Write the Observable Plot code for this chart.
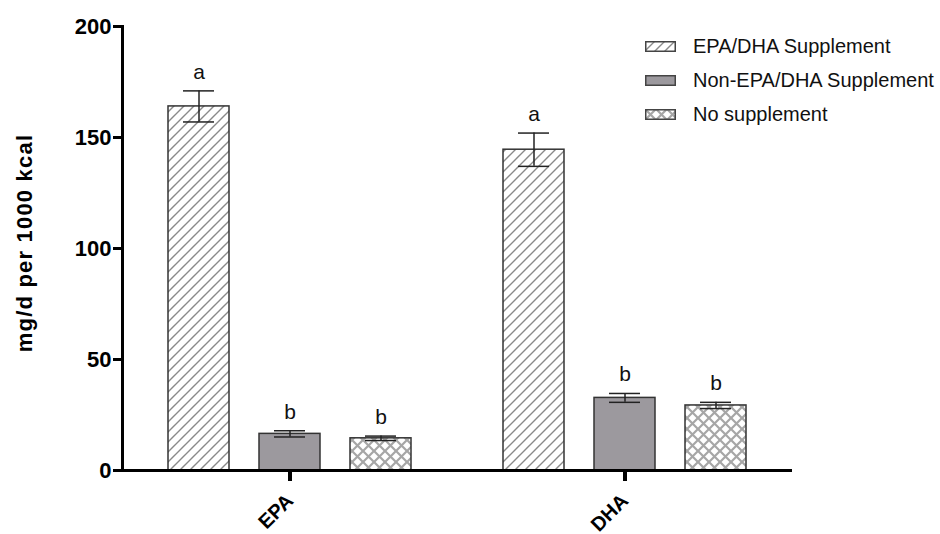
<!DOCTYPE html>
<html><head><meta charset="utf-8">
<script src="https://cdn.jsdelivr.net/npm/d3@7"></script>
<script src="https://cdn.jsdelivr.net/npm/@observablehq/plot@0.6"></script>
<style>
body{margin:0;background:#fff;font-family:"Liberation Sans",Arial,sans-serif;}
#wrap{position:relative;width:940px;height:534px;}
#chart{position:absolute;left:0;top:0;}
#ylab{position:absolute;left:-125px;top:230px;width:300px;height:26px;text-align:center;transform:rotate(-90deg);font-weight:bold;font-size:22px;letter-spacing:1.2px;line-height:26px;color:#000;white-space:nowrap}
#legend{position:absolute;left:645px;top:29px;font-size:20px;color:#111}
.row{display:flex;align-items:center;height:34px;white-space:nowrap}
.row svg{margin-right:17px;flex:none}
.xtick{position:absolute;width:4px;height:10px;background:#000;z-index:10}
</style></head>
<body>
<svg width="0" height="0" style="position:absolute">
<defs>
<pattern id="diag" patternUnits="userSpaceOnUse" width="10" height="10">
<rect width="10" height="10" fill="#fff"/>
<path d="M-1,11 L11,-1 M-1,1 L1,-1 M9,11 L11,9" stroke="#8a8a8a" stroke-width="1.4"/>
</pattern>
<pattern id="cross" patternUnits="userSpaceOnUse" width="11" height="11">
<rect width="11" height="11" fill="#fff"/>
<path d="M0,0 L11,11 M11,0 L0,11" stroke="#a6a6a6" stroke-width="2.2"/>
</pattern>
</defs>
</svg>
<div id="wrap"><div id="chart"></div><div id="ylab">mg/d per 1000 kcal</div><div id="legend"></div></div>
<script>
const nutrients = ["EPA", "DHA"];
const groups = ["EPA/DHA Supplement", "Non-EPA/DHA Supplement", "No supplement"];
const epaMean = [164, 16.5, 14.5];
const epaSE = [7, 1.4, 1.0];
const dhaMean = [144.5, 32.7, 29.3];
const dhaSE = [7.5, 2.0, 1.4];
const epaLetters = ["a", "b", "b"];
const dhaLetters = ["a", "b", "b"];
const yTicks = [0, 50, 100, 150, 200];
const fills = ["url(#diag)", "#9c999e", "url(#cross)"];

const rows = [];
nutrients.forEach((n, i) => {
  const m = i === 0 ? epaMean : dhaMean;
  const s = i === 0 ? epaSE : dhaSE;
  const l = i === 0 ? epaLetters : dhaLetters;
  groups.forEach((g, j) => rows.push({nutrient: n, group: g, mean: m[j], lo: m[j] - s[j], hi: m[j] + s[j], letter: l[j]}));
});

const ML = 122;
const eb = {fx: "nutrient", x: "group", stroke: "#222", strokeWidth: 1.5};
const chart = Plot.plot({
  width: 940, height: 534,
  marginLeft: ML, marginRight: 148, marginTop: 26, marginBottom: 64,
  style: {fontFamily: "Liberation Sans, Arial, sans-serif", background: "transparent", overflow: "visible"},
  fx: {domain: nutrients, padding: 0},
  x: {domain: groups, paddingInner: 0.33, paddingOuter: 0.505, axis: null},
  y: {domain: [0, 200]},
  color: {domain: groups, range: fills},
  marks: [
    Plot.barY(rows, {fx: "nutrient", x: "group", y: "mean", fill: "group", stroke: "#333", strokeWidth: 1.5}),
    Plot.ruleX(rows, {...eb, y1: "lo", y2: "hi"}),
    Plot.tickY(rows, {...eb, y: "hi", insetLeft: 15, insetRight: 15}),
    Plot.tickY(rows, {...eb, y: "lo", insetLeft: 15, insetRight: 15}),
    Plot.text(rows, {fx: "nutrient", x: "group", y: "hi", text: "letter", dy: -12, lineAnchor: "bottom", fontSize: 21, fill: "#111"}),
    Plot.ruleY([0], {stroke: "#000", strokeWidth: 3}),
    Plot.frame({anchor: "left", facetAnchor: "left", stroke: "#000", strokeWidth: 3}),
    Plot.axisY({ticks: yTicks, tickSize: 9, tickPadding: 2, strokeWidth: 3, fontSize: 22, fontWeight: "bold", label: null, color: "#000"}),
    Plot.axisFx({anchor: "bottom", tickSize: 0, tickPadding: 27, tickRotate: -45, fontSize: 20, fontWeight: "bold", label: null, color: "#000"})
  ]
});
document.getElementById("chart").appendChild(chart);

const legend = document.getElementById("legend");
groups.forEach((g, j) => {
  const row = document.createElement("div");
  row.className = "row";
  row.innerHTML = `<svg width="31" height="11"><rect x="0.75" y="0.75" width="29.5" height="9.5" fill="${fills[j]}" stroke="#444" stroke-width="1.5"/></svg><span>${g}</span>`;
  legend.appendChild(row);
});

// category tick marks on the x axis, placed with the plot's own fx and y scales
const wrap = document.getElementById("wrap");
const fxs = chart.scale("fx");
const ys = chart.scale("y");
const off = Math.min(...fxs.range) < 1 ? ML : 0;
const y0 = ys.apply(0);
nutrients.forEach(n => {
  const cx = fxs.apply(n) + off + fxs.bandwidth / 2;
  const t = document.createElement("div");
  t.className = "xtick";
  t.style.left = (cx - 2) + "px";
  t.style.top = (y0 + 1) + "px";
  wrap.appendChild(t);
});
</script>
</body></html>
